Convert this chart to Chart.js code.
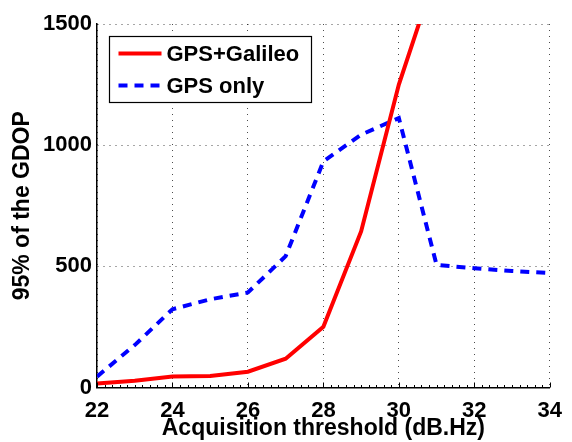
<!DOCTYPE html>
<html>
<head>
<meta charset="utf-8">
<script src="https://cdn.jsdelivr.net/npm/chart.js@4/dist/chart.umd.min.js"></script>
<style>
  html, body { margin: 0; padding: 0; background: #fff; }
  #wrap { width: 572px; height: 442px; position: relative; }
</style>
</head>
<body>
<div id="wrap"><canvas id="c"></canvas></div>
<script>
// ---- data ----
const thresholds = [22, 23, 24, 25, 26, 27, 28, 29, 30, 31, 32, 33, 34];
const gpsGalileo = [17, 28, 45, 47, 65, 119, 251, 644, 1250, 1720];
const gpsOnly = [45, 175, 323, 364, 392, 542, 933, 1043, 1112, 506, 492, 481, 472];
const seriesNames = ['GPS+Galileo', 'GPS only'];
const xTicks = [22, 24, 26, 28, 30, 32, 34];
const yTicks = [0, 500, 1000, 1500];
const xTitle = 'Acquisition threshold (dB.Hz)';
const yTitle = '95% of the GDOP';

const FONT = '"Liberation Sans", Arial, sans-serif';

function pts(vals) {
  return vals.map((v, i) => ({ x: thresholds[i], y: v }));
}

const legendPlugin = {
  id: 'boxLegend',
  afterDatasetsDraw(chart) {
    const ctx = chart.ctx;
    const a = chart.chartArea;
    const bx = a.left + 12.5, by = a.top + 12.5, bw = 202, bh = 66;
    ctx.save();
    ctx.fillStyle = '#fff';
    ctx.fillRect(bx, by, bw, bh);
    ctx.strokeStyle = '#000';
    ctx.lineWidth = 1.2;
    ctx.strokeRect(bx, by, bw, bh);
    const rows = [by + 17, by + 49];
    chart.data.datasets.forEach((ds, i) => {
      const y = rows[i];
      ctx.beginPath();
      ctx.strokeStyle = ds.borderColor;
      ctx.lineWidth = ds.borderWidth;
      ctx.setLineDash(ds.borderDash || []);
      ctx.moveTo(bx + 9, y);
      ctx.lineTo(bx + 52, y);
      ctx.stroke();
      ctx.setLineDash([]);
      ctx.fillStyle = '#000';
      ctx.font = 'bold 22px ' + FONT;
      ctx.textBaseline = 'middle';
      ctx.textAlign = 'left';
      ctx.fillText(ds.label, bx + 57, y + 1.5);
    });
    ctx.restore();
  }
};

const minorTicks = {
  id: 'minorTicks',
  afterDraw(chart) {
    const ctx = chart.ctx;
    const xs = chart.scales.x;
    const a = chart.chartArea;
    ctx.save();
    ctx.strokeStyle = '#000';
    ctx.lineWidth = 1;
    for (let k = 0; k <= 60; k++) {
      const v = 22 + k * 0.2;
      const px = Math.round(xs.getPixelForValue(v)) + 0.5;
      const len = (k % 10 === 0) ? 5 : 2.5;
      ctx.beginPath();
      ctx.moveTo(px, a.bottom);
      ctx.lineTo(px, a.bottom - len);
      ctx.stroke();
    }
    ctx.restore();
  }
};

new Chart(document.getElementById('c'), {
  type: 'line',
  data: {
    datasets: [
      {
        label: seriesNames[0],
        data: pts(gpsGalileo),
        borderColor: '#ff0000',
        backgroundColor: '#ff0000',
        borderWidth: 4,
        pointRadius: 0,
        tension: 0,
        clip: 0
      },
      {
        label: seriesNames[1],
        data: pts(gpsOnly),
        borderColor: '#0000ff',
        backgroundColor: '#0000ff',
        borderWidth: 4,
        borderDash: [9, 7],
        borderCapStyle: 'butt',
        pointRadius: 0,
        tension: 0,
        clip: 0
      }
    ]
  },
  options: {
    responsive: true,
    maintainAspectRatio: false,
    animation: false,
    devicePixelRatio: 1,
    layout: { padding: { left: 0, top: 24, right: 16, bottom: 0 } },
    plugins: { legend: { display: false }, tooltip: { enabled: false } },
    scales: {
      x: {
        type: 'linear',
        min: 22, max: 34,
        afterBuildTicks(s) { s.ticks = xTicks.map(v => ({ value: v })); },
        afterFit(s) { s.height = 54.5; },
        ticks: {
          color: '#000',
          font: { family: FONT, size: 22, weight: 'bold' },
          padding: 10,
          maxRotation: 0,
          callback: v => String(v)
        },
        grid: {
          color: 'rgba(0,0,0,0.7)',
          lineWidth: 1,
          drawTicks: false
        },
        border: { display: true, color: '#000', width: 1.5, dash: [1, 5] },
        title: {
          display: true,
          text: xTitle,
          color: '#000',
          font: { family: FONT, size: 23, weight: 'bold' },
          padding: { top: 0, bottom: 0 }
        }
      },
      y: {
        type: 'linear',
        min: 0, max: 1500,
        afterBuildTicks(s) { s.ticks = yTicks.map(v => ({ value: v })); },
        afterFit(s) { s.width = 97; },
        ticks: {
          color: '#000',
          font: { family: FONT, size: 22, weight: 'bold' },
          padding: 5,
          callback: v => String(v)
        },
        grid: {
          color: 'rgba(0,0,0,0.7)',
          lineWidth: 1,
          drawTicks: false
        },
        border: { display: true, color: '#000', width: 1.5, dash: [1, 5] },
        title: {
          display: true,
          text: yTitle,
          color: '#000',
          font: { family: FONT, size: 23, weight: 'bold' },
          padding: { top: 9, bottom: 0 }
        }
      }
    }
  },
  plugins: [legendPlugin, minorTicks]
});
</script>
</body>
</html>
